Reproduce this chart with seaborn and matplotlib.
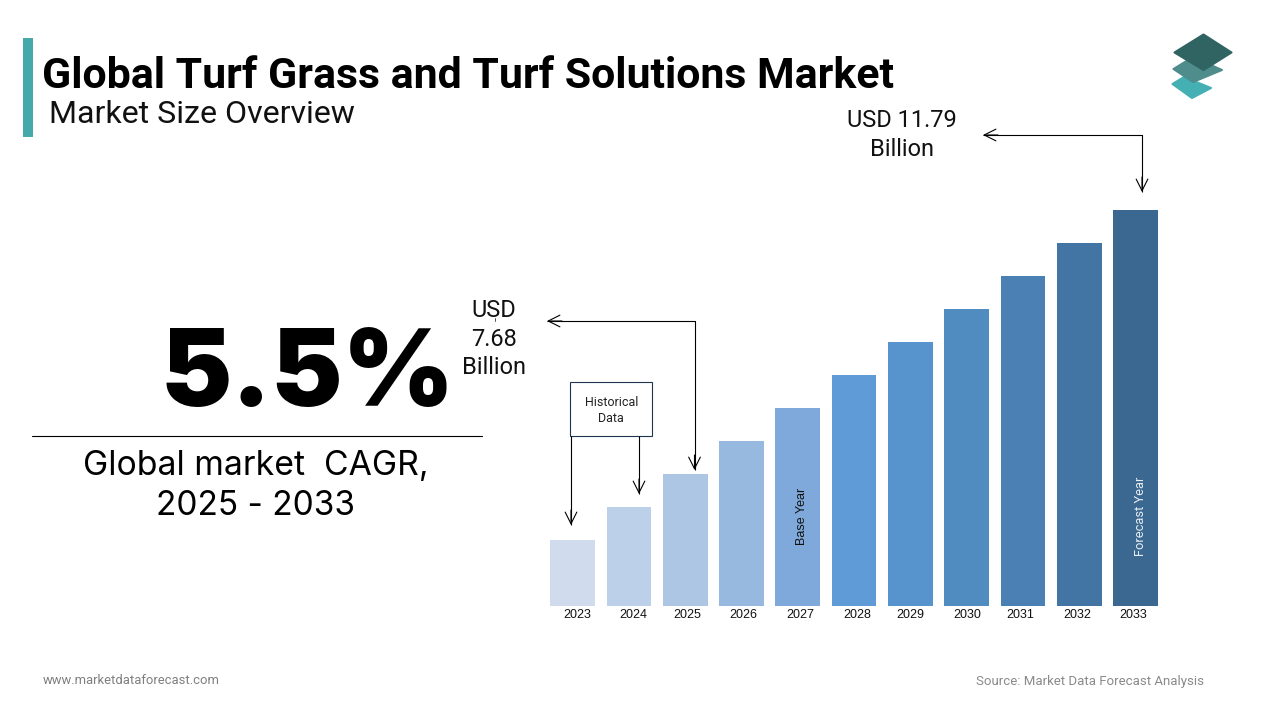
import matplotlib
matplotlib.use("Agg")
import matplotlib.pyplot as plt
from matplotlib.patches import Polygon, Rectangle
from matplotlib.transforms import ScaledTranslation
import pandas as pd
import seaborn as sns

# bar heights, the bars are not drawn to value scale
years = ["2023", "2024", "2025", "2026", "2027", "2028", "2029", "2030", "2031", "2032", "2033"]
bar_heights = [2, 3, 4, 5, 6, 7, 8, 9, 10, 11, 12]
bar_colors = ["#D0DCEE", "#BDD0E9", "#ADC6E4", "#97B8DF", "#7FA9DA", "#5F9BD6",
              "#5794CE", "#518CC0", "#4A80B3", "#4275A4", "#3B6890"]
label_shift_px = [4.5, 4, 2, 1.5, 2.5, 3, 0, 0.5, -3, -2, -2.5]

sns.set_theme(style="white")
plt.rcParams["font.family"] = ["Roboto", "DejaVu Sans"]

W, H = 1280, 720
fig = plt.figure(figsize=(W / 100, H / 100), dpi=100, facecolor="white")

# overlay in pixel coords for the slide furniture
over = fig.add_axes([0, 0, 1, 1], zorder=3)
over.set_xlim(0, W)
over.set_ylim(H, 0)
over.axis("off")
over.patch.set_alpha(0)

# bars
left, right, top, bottom = 544.5, 1163.7, 210, 606
ax = fig.add_axes([left / W, 1 - bottom / H, (right - left) / W, (bottom - top) / H])
df = pd.DataFrame({"year": years, "height": bar_heights})
sns.barplot(data=df, x="year", y="height", hue="year", palette=bar_colors,
            legend=False, width=0.795, saturation=1, linewidth=0, ax=ax)
ax.set_ylim(0, 12)
ax.set_xlabel("")
ax.set_ylabel("")
ax.set_yticks([])
ax.tick_params(axis="x", length=0, pad=2.2, labelsize=9, labelcolor="#111111")
sns.despine(ax=ax, left=True, bottom=True, top=True, right=True)
ax.patch.set_alpha(0)
for lab, dx in zip(ax.get_xticklabels(), label_shift_px):
    lab.set_family(["Liberation Sans", "DejaVu Sans"])
    lab.set_transform(lab.get_transform() + ScaledTranslation(dx / 100, 0, fig.dpi_scale_trans))

# header
over.add_patch(Rectangle((23, 38), 10, 99, color="#45A9A9", lw=0))
over.text(42, 88, "Global Turf Grass and Turf Solutions Market", fontsize=30.85,
          fontweight="bold", color="black", va="baseline", ha="left")
over.text(49, 123, "Market Size Overview", fontsize=23.1, color="#111111", va="baseline", ha="left")

# layers logo
over.add_patch(Polygon([(1172.5, 84), (1184, 77), (1211, 88), (1192, 98)], facecolor="#45B0B3",
                       edgecolor="#45B0B3", lw=1.5, joinstyle="round"))
over.add_patch(Polygon([(1173.5, 69), (1193, 57), (1222, 70), (1193, 82)], facecolor="#4F8C8C",
                       edgecolor="#4F8C8C", lw=1.5, joinstyle="round"))
over.add_patch(Polygon([(1174.5, 52.5), (1203.5, 34.5), (1231.5, 52.5), (1203.5, 70)], facecolor="#2F6462",
                       edgecolor="#2F6462", lw=1.5, joinstyle="round"))

# CAGR block
over.text(308, 406, "5.5%", fontsize=77, fontweight="black", family=["Inter", "DejaVu Sans"],
          color="black", va="baseline", ha="center")
over.plot([32, 482], [436, 436], color="black", lw=0.8)
over.text(256, 475, "Global market  CAGR,", fontsize=24.3, family=["Inter", "DejaVu Sans"],
          color="black", va="baseline", ha="center")
over.text(256, 515, "2025 - 2033", fontsize=24, family=["Inter", "DejaVu Sans"],
          color="black", va="baseline", ha="center")

# value callouts
over.text(494, 310.5, "USD", fontsize=17, color="#111111", va="center", ha="center")
over.text(494, 339, "7.68", fontsize=17, color="#111111", va="center", ha="center")
over.text(494, 367.5, "Billion", fontsize=17, color="#111111", va="center", ha="center")
over.text(902, 120.5, "USD 11.79", fontsize=17, color="#111111", va="center", ha="center")
over.text(902, 149.5, "Billion", fontsize=17, color="#111111", va="center", ha="center")
over.plot([494.5, 494.5], [318, 321], color="#333333", lw=0.6)


def line(xs, ys):
    over.plot(xs, ys, color="black", lw=0.8, solid_capstyle="butt")


def head(tip, tail):
    # open arrow head only, the line is drawn by line()
    over.annotate("", xy=tip, xytext=tail,
                  arrowprops=dict(arrowstyle="->,head_length=0.7,head_width=0.35",
                                  color="black", lw=0.8, shrinkA=0, shrinkB=0))


line([694.5, 694.5, 547], [470, 321, 321])
head((694.5, 470), (694.5, 455))
head((547, 321), (562, 321))
line([983, 1142, 1142], [135, 135, 192])
head((983, 135), (998, 135))
head((1142, 192), (1142, 177))

# historical data box
over.add_patch(Rectangle((570.3, 382.3), 82, 54, facecolor="white", edgecolor="#1F3550", lw=0.8))
over.text(611.5, 402, "Historical", fontsize=9, color="#222222", va="center", ha="center")
over.text(611, 418, "Data", fontsize=9, color="#222222", va="center", ha="center")
line([571, 571], [436, 525])
head((571, 525), (571, 510))
line([639, 639], [436, 494])
head((639, 494), (639, 479))

# labels inside bars
over.text(802, 516, "Base Year", fontsize=9, rotation=90, color="#111111", va="center", ha="center",
          family=["Liberation Sans", "DejaVu Sans"])
over.text(1141, 516, "Forecast Year", fontsize=9.3, rotation=90, color="#E8EEF4", va="center", ha="center")

# footer
over.text(43, 680, "www.marketdataforecast.com", fontsize=9.35, color="#7F7F7F", va="center", ha="left")
over.text(1204, 681, "Source: Market Data Forecast Analysis", fontsize=9.5, color="#8A8A8A", va="center", ha="right")

fig.savefig("out.png", dpi=100)
